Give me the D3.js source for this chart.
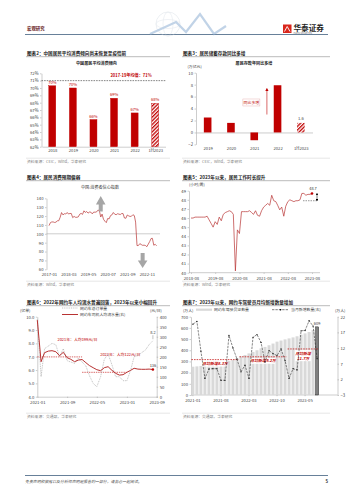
<!DOCTYPE html>
<html>
<head>
<meta charset="utf-8">
<script src="https://cdn.jsdelivr.net/npm/d3@7"></script>
<style>
  html, body { margin: 0; padding: 0; background: #fff; }
  svg { display: block; }
  svg text { font-family: "Noto Sans CJK SC", "Noto Sans", sans-serif; }
  .ax .domain { stroke: #9a9a9a; stroke-width: 0.5; }
  .ax .tick line { stroke: #9a9a9a; stroke-width: 0.5; }
  .ax .tick text { font-size: 4.2px; fill: #404040; }
</style>
</head>
<body>
<div id="page"></div>
<script>
// 图表2 居民平均消费倾向
const apcYears = ['2018', '2019', '2020', '2021', '2022', '1H2023'];
const apcValues = [70.3, 70.0, 65.7, 68.6, 66.6, 67.9];
const apcLabels = ['70%', '70%', '66%', '69%', '67%', '68%'];
const apcAvg = 71;
const apcTicks = [62, 63, 64, 65, 66, 67, 68, 69, 70, 71, 72];

// 图表3 居民存款同比多增（万亿元）
const depYears = ['2019', '2020', '2021', '2022', '1H2023'];
const depValues = [2.5, 1.6, -1.3, 7.9, 1.6];
const depTicks = [-2, 0, 2, 4, 6, 8, 10];

// 图表4 消费者信心指数 2017-01 起
const cciStart = '2017-01';
const cciValues = [
  109.2, 112.6, 113.3, 113.4, 112.8, 113.1, 114.6, 114.7, 118.6, 123.9, 121.3, 122.6,
  122.3, 124.0, 122.3, 122.9, 122.9, 118.2, 119.6, 118.6, 118.6, 119.1, 122.1, 123.0,
  121.9, 125.9, 124.1, 125.1, 123.3, 124.5, 124.4, 122.4, 124.5, 124.3, 124.6, 126.6,
  126.4, 118.9, 122.2, 116.4, 114.2, 112.6, 117.2, 116.8, 120.5, 121.3, 124.0, 122.1,
  121.5, 122.6, 122.2, 121.7, 122.8, 122.8, 117.8, 117.5, 121.2, 120.2, 119.5, 119.8,
  121.5, 120.5, 113.2, 86.7, 86.8, 88.9, 87.9, 87.0, 87.2, 86.8, 85.5, 88.3,
  91.2, 94.7, 94.9, 87.1, 88.2, 86.5
];
const cciTicks = ['2017-01', '2018-03', '2019-05', '2020-07', '2021-09', '2022-11'];
const cciYTicks = [60, 70, 80, 90, 100, 110, 120, 130, 140];

// 图表5 平均工作时长（小时/周）2018-08 起
const hoursStart = '2018-08';
const hoursValues = [
  46.0, 46.0, 46.1, 46.1, 46.1, 46.1, 46.1, 46.1, 46.2, 45.8, 45.4, 45.0,
  45.6, 45.3, 46.1, 45.7, 46.4, 46.6, 46.7, 46.8, 46.7, 46.4, 40.2, 44.7,
  44.3, 46.7, 46.7, 46.7, 46.7, 46.8, 46.6, 46.4, 46.8, 46.3, 46.2, 46.8,
  47.2, 47.4, 47.6, 47.4, 48.5, 47.9, 47.8, 47.4, 46.9, 47.2, 46.2, 47.3,
  47.8, 48.0, 47.9, 47.8, 47.9, 47.9, 48.0, 48.7, 48.7, 48.5, 48.6, 48.6, 48.7
];
const hoursTicks = ['2018-08', '2019-08', '2020-08', '2021-08', '2022-08', '2023-08'];
const hoursYTicks = [40, 41, 42, 43, 44, 45, 46, 47, 48, 49];

// 图表6 网约车订单量（亿单）与司机人均流水（元/日）2021-01 起
const rideStart = '2021-01';
const rideOrders = [
  9.8, 5.5, 7.6, 7.8, 8.0, 7.9, 7.0, 7.6, 6.7, 6.6, 6.5, 6.9,
  6.6, 6.3, 5.6, 5.0, 4.75, 5.5, 6.8, 7.2, 6.4, 5.5, 5.5, 5.2,
  5.2, 6.0, 7.0, 7.1, 7.3, 7.5, 7.9, 8.2
];
const rideIncome = [
  383, 175, 220, 228, 230, 225, 205, 222, 195, 187, 175, 183,
  186, 170, 156, 145, 135, 130, 145, 150, 132, 117, 108, 110,
  122, 132, 142, 138, 137, 137, 138, 136
];
const rideAvgFrom = ['2021-01', '2022-01'];
const rideAvgTo = ['2022-01', '2023-01'];
const rideAvgValues = [199, 122];
const rideAvgLabels = ['2021年：人均199元/日', '2022年：人均122元/日'];
const rideTicks = ['2021-01', '2021-09', '2022-05', '2023-01', '2023-09'];
const rideLeftTicks = [4, 5, 6, 7, 8, 9, 10];
const rideRightTicks = [0, 50, 100, 150, 200, 250, 300, 350, 400];

// 图表7 网约车驾驶员证数量（万人）与当月新增（万人）2021-01 起
const drvStart = '2021-01';
const drvLicenses = [
  253, 256, 260, 263, 266, 270, 276, 283, 295, 305, 316, 328,
  345, 358, 372, 385, 400, 417, 430, 445, 460, 477, 487, 497,
  506, 515, 525, 540, 551, 563, 581, 609
];
const drvNew = [
  19.6, 20.5, 11.0, 2.3, 5.3, 5.4, 5.4, 1.7, 1.7, 16.0, 12.0, 8.5,
  4.4, 6.5, 2.3, 15.4, 16.3, 13.8, 7.5, 11.2, 10.2, 9.6, 11.7, 8.0,
  2.3, 5.4, 5.0, 17.5, 17.6, 20.7, 19.0, 8.6
];
const drvAvgFrom = ['2021-01', '2022-01', '2023-01'];
const drvAvgTo = ['2021-12', '2022-12', '2023-08'];
const drvAvgValues = [8.3, 9.2, 11.7];
const drvAvgLabels = [['月均新增8.3万'], ['月均新增9.2万'], ['月均新增', '11.7万']];
const drvTicks = ['2021-01', '2021-08', '2022-03', '2022-10', '2023-05'];
const drvLeftTicks = [0, 100, 200, 300, 400, 500, 600, 700];
const drvRightTicks = [-3, 2, 7, 12, 17, 22];

const RED = '#c00000';
const LINE_RED = '#b83232';
const fmtMonth = d3.timeFormat('%Y-%m');
const parseMonth = d3.timeParse('%Y-%m');
const monthsFrom = (start, n) => d3.range(n).map(i => d3.timeMonth.offset(parseMonth(start), i));

const svg = d3.select('#page')
  .append('svg')
  .attr('width', 353)
  .attr('height', 500);

const defs = svg.append('defs');
const hatch = defs.append('pattern')
  .attr('id', 'hatch')
  .attr('patternUnits', 'userSpaceOnUse')
  .attr('width', 2.6)
  .attr('height', 2.6)
  .attr('patternTransform', 'rotate(45)');
hatch.append('rect').attr('width', 2.6).attr('height', 2.6).attr('fill', '#fff');
hatch.append('rect').attr('width', 1.3).attr('height', 2.6).attr('fill', RED);

function marker(id, color, size) {
  defs.append('marker')
    .attr('id', id)
    .attr('viewBox', '0 0 10 10')
    .attr('refX', 5)
    .attr('refY', 5)
    .attr('markerUnits', 'userSpaceOnUse')
    .attr('markerWidth', size)
    .attr('markerHeight', size)
    .attr('orient', 'auto-start-reverse')
    .append('path')
    .attr('d', 'M0,0L10,5L0,10z')
    .attr('fill', color);
}
marker('arrRed', RED, 3.2);
marker('arrBlack', '#000', 2.4);

function txt(x, y, s, o = {}) {
  return svg.append('text')
    .attr('x', x)
    .attr('y', y)
    .attr('font-size', o.size || 4.2)
    .attr('font-weight', o.bold ? 'bold' : null)
    .attr('font-style', o.italic ? 'italic' : null)
    .attr('fill', o.fill || '#333')
    .attr('text-anchor', o.anchor || 'start')
    .text(s);
}

function hline(x1, x2, y, color, w, dash) {
  return svg.append('line')
    .attr('x1', x1).attr('x2', x2)
    .attr('y1', y).attr('y2', y)
    .attr('stroke', color)
    .attr('stroke-width', w)
    .attr('stroke-dasharray', dash || null);
}

function title(x, y, x2, s) {
  txt(x, y, s, { size: 4.6, bold: true, fill: '#1a1a1a' });
  hline(x - 1, x2, y + 2.2, '#555', 0.4);
}

function source(x, y, x2, s) {
  hline(x - 1, x2, y - 4.8, '#bfbfbf', 0.4);
  txt(x, y, s, { size: 3.8, fill: '#808080' });
}

// ---------- 页眉 ----------
txt(27, 29.5, '宏观研究', { size: 4.4, bold: true, fill: '#6b1d1d' });
hline(25, 328, 34.5, '#40607f', 0.8);
const deco = svg.append('g').attr('opacity', 0.55);
deco.append('circle').attr('cx', 168).attr('cy', 24).attr('r', 12)
  .attr('fill', 'none').attr('stroke', '#c9d3de').attr('stroke-width', 0.6);
deco.append('ellipse').attr('cx', 168).attr('cy', 24).attr('rx', 12).attr('ry', 4.5)
  .attr('fill', 'none').attr('stroke', '#c9d3de').attr('stroke-width', 0.5);
deco.append('ellipse').attr('cx', 168).attr('cy', 24).attr('rx', 5).attr('ry', 12)
  .attr('fill', 'none').attr('stroke', '#c9d3de').attr('stroke-width', 0.5);
deco.append('polyline')
  .attr('points', '150,34 176,22 186,32 200,14 214,34 226,26')
  .attr('fill', 'none').attr('stroke', '#8fb0d4').attr('stroke-width', 2.2);
svg.append('rect').attr('x', 283).attr('y', 24.5).attr('width', 8.5).attr('height', 8.5).attr('fill', '#d9261c');
svg.append('path').attr('d', 'M284.5,31.5L287.2,26.5L290,31.5').attr('fill', 'none').attr('stroke', '#fff').attr('stroke-width', 0.9);
txt(293.5, 30.5, '华泰证券', { size: 7.6, bold: true, fill: '#1f1f1f' });
txt(293.5, 33.6, 'HUATAI SECURITIES', { size: 2, fill: '#666' });

// ---------- 图表2 ----------
title(27, 54.5, 170, '图表2：中国居民平均消费倾向尚未恢复至疫情前');
{
  const x = d3.scalePoint().domain(apcYears).range([42, 165.5]).padding(0.5);
  const y = d3.scaleLinear().domain([62, 72]).range([146.7, 73.3]);
  txt(96.5, 64.8, '中国居民平均消费倾向', { size: 4.1, bold: true, anchor: 'middle', fill: '#222' });
  svg.append('g').attr('class', 'ax').attr('transform', 'translate(41.5,0)')
    .call(d3.axisLeft(y).tickValues(apcTicks).tickSize(1.5).tickSizeOuter(0).tickPadding(1.5).tickFormat(d => d + '%'));
  svg.append('g').attr('class', 'ax').attr('transform', `translate(0,${y(62)})`)
    .call(d3.axisBottom(x).tickSize(0).tickSizeOuter(0).tickPadding(2.5));
  hline(41.5, 165.5, y(apcAvg), '#333', 0.6, '1.6,1');
  txt(131, y(apcAvg) - 3.5, '2017-19年均值：71%', { size: 4.1, bold: true, anchor: 'middle', fill: RED });
  svg.append('g').selectAll('rect').data(apcYears).join('rect')
    .attr('x', d => x(d) - 3.5)
    .attr('width', 7)
    .attr('y', (d, i) => y(apcValues[i]))
    .attr('height', (d, i) => y(62) - y(apcValues[i]))
    .attr('fill', (d, i) => i === apcYears.length - 1 ? 'url(#hatch)' : RED)
    .attr('stroke', RED)
    .attr('stroke-width', 0.4);
  svg.append('g').selectAll('text').data(apcYears).join('text')
    .attr('x', d => x(d))
    .attr('y', (d, i) => y(apcValues[i]) - 2)
    .attr('text-anchor', 'middle')
    .attr('font-size', 4.1)
    .attr('fill', RED)
    .text((d, i) => apcLabels[i]);
}
source(27, 163, 170, '资料来源：CEIC，Wind，华泰研究');

// ---------- 图表3 ----------
title(183, 54.5, 330, '图表3：居民储蓄存款同比多增');
{
  const x = d3.scalePoint().domain(depYears).range([196, 312.5]).padding(0.5);
  const y = d3.scaleLinear().domain([-2, 10]).range([144.4, 72.7]);
  txt(254, 64.8, '居民存款年同比多增', { size: 4.1, bold: true, anchor: 'middle', fill: '#222' });
  txt(187.5, 67.5, '(万亿元)', { size: 3.9, fill: '#404040' });
  svg.append('g').attr('class', 'ax').attr('transform', 'translate(196,0)')
    .call(d3.axisLeft(y).tickValues(depTicks).tickSize(1.5).tickSizeOuter(0).tickPadding(1.5));
  svg.append('g').attr('class', 'ax').attr('transform', `translate(0,${y(0)})`)
    .call(d3.axisBottom(x).tickSize(0).tickSizeOuter(0).tickPadding(y(-2) - y(0) + 2.2));
  svg.append('g').selectAll('rect').data(depYears).join('rect')
    .attr('x', d => x(d) - 3.8)
    .attr('width', 7.6)
    .attr('y', (d, i) => y(Math.max(0, depValues[i])))
    .attr('height', (d, i) => Math.abs(y(depValues[i]) - y(0)))
    .attr('fill', (d, i) => i === depYears.length - 1 ? 'url(#hatch)' : RED);
  const last = depYears.length - 1;
  txt(x(depYears[last]), y(depValues[last]) - 2.5, '1.6', { size: 4.1, anchor: 'middle', fill: '#404040' });
  // 同比多增 箭头
  const ax = (x('2021') + x('2022')) / 2 + 1;
  svg.append('line')
    .attr('x1', ax).attr('x2', ax)
    .attr('y1', y(3)).attr('y2', y(7.2))
    .attr('stroke', RED).attr('stroke-width', 0.6)
    .attr('marker-end', 'url(#arrRed)');
  svg.append('rect').attr('x', ax - 24).attr('y', y(5.6)).attr('width', 17).attr('height', 7)
    .attr('fill', '#fff').attr('stroke', '#e2a4a4').attr('stroke-width', 0.4);
  txt(ax - 15.5, y(5.6) + 5, '同比多增', { size: 3.9, anchor: 'middle', fill: RED });
}
source(183, 163, 330, '资料来源：CEIC，Wind，华泰研究');

// ---------- 图表4 ----------
title(27, 178.5, 170, '图表4：居民消费预期偏弱');
{
  const dates = monthsFrom(cciStart, cciValues.length);
  const x = d3.scaleTime().domain([dates[0], dates[dates.length - 1]]).range([49, 156.6]);
  const y = d3.scaleLinear().domain([60, 140]).range([269.3, 198.3]);
  txt(100, 189, '中国:消费者信心指数', { size: 4.1, anchor: 'middle', fill: '#333' });
  svg.append('g').attr('class', 'ax').attr('transform', 'translate(46.5,0)')
    .call(d3.axisLeft(y).tickValues(cciYTicks).tickSize(1.5).tickSizeOuter(0).tickPadding(1.5));
  svg.append('g').attr('class', 'ax').attr('transform', `translate(0,${y(100)})`)
    .call(d3.axisBottom(x).tickValues(cciTicks.map(parseMonth)).tickFormat(fmtMonth)
      .tickSize(0).tickSizeOuter(0).tickPadding(y(60) - y(100) + 3.5))
    .call(g => g.select('.domain').attr('d', `M46.5,0H160`));
  svg.append('path')
    .datum(cciValues)
    .attr('fill', 'none')
    .attr('stroke', LINE_RED)
    .attr('stroke-width', 0.7)
    .attr('d', d3.line().x((d, i) => x(dates[i])).y(d => y(d)));
  // 灰色箭头
  const up = x(parseMonth('2020-02'));
  svg.append('path')
    .attr('d', `M${up - 2},${y(125)}V${y(133)}H${up - 4.8}L${up},${y(142.5)}L${up + 4.8},${y(133)}H${up + 2}V${y(125)}Z`)
    .attr('fill', '#a6a6a6');
  const dn = x(parseMonth('2022-08'));
  svg.append('path')
    .attr('d', `M${dn - 2},${y(78.5)}V${y(70)}H${dn - 4.8}L${dn},${y(61.5)}L${dn + 4.8},${y(70)}H${dn + 2}V${y(78.5)}Z`)
    .attr('fill', '#a6a6a6');
}
source(27, 286, 170, '资料来源：Wind，华泰研究');

// ---------- 图表5 ----------
title(183, 178.5, 330, '图表5：2023年以来，居民工作时长提升');
{
  const dates = monthsFrom(hoursStart, hoursValues.length);
  const x = d3.scaleTime().domain([dates[0], dates[dates.length - 1]]).range([191, 312]);
  const y = d3.scaleLinear().domain([40, 49]).range([272.7, 190.7]);
  txt(189, 185.5, '(小时/周)', { size: 3.9, fill: '#404040' });
  svg.append('g').attr('class', 'ax').attr('transform', 'translate(189,0)')
    .call(d3.axisLeft(y).tickValues(hoursYTicks).tickSize(1.5).tickSizeOuter(0).tickPadding(1.5));
  svg.append('g').attr('class', 'ax').attr('transform', `translate(0,${y(40)})`)
    .call(d3.axisBottom(x).tickValues(hoursTicks.map(parseMonth)).tickFormat(fmtMonth)
      .tickSize(1.2).tickSizeOuter(0).tickPadding(2.8))
    .call(g => g.select('.domain').attr('d', 'M189,0H320'));
  svg.append('path')
    .datum(hoursValues)
    .attr('fill', 'none')
    .attr('stroke', LINE_RED)
    .attr('stroke-width', 0.7)
    .attr('d', d3.line().x((d, i) => x(dates[i])).y(d => y(d)));
  const n = hoursValues.length - 1;
  svg.append('circle').attr('cx', x(dates[n])).attr('cy', y(hoursValues[n])).attr('r', 1.3).attr('fill', RED);
  txt(x(dates[n]) + 1, y(hoursValues[n]) - 3, '48.7', { size: 3.9, anchor: 'middle', fill: '#333' });
  const ar = x(dates[n]) + 5;
  svg.append('line')
    .attr('x1', ar).attr('x2', ar)
    .attr('y1', y(48.65)).attr('y2', y(47.95))
    .attr('stroke', '#000').attr('stroke-width', 0.5)
    .attr('marker-start', 'url(#arrBlack)')
    .attr('marker-end', 'url(#arrBlack)');
  hline(x(dates[n]) - 9, ar, y(47.9), '#333', 0.5, '1.5,1');
}
source(183, 286, 330, '资料来源：Wind，华泰研究');

// ---------- 图表6 ----------
title(27, 303.5, 170, '图表6：2022年网约车人均流水普遍回落，2023年以来小幅回升');
{
  const dates = monthsFrom(rideStart, rideOrders.length);
  const x = d3.scaleTime().domain([parseMonth(rideTicks[0]), parseMonth(rideTicks[rideTicks.length - 1])]).range([37.3, 156.7]);
  const yL = d3.scaleLinear().domain([4, 10]).range([396.7, 316.7]);
  const yR = d3.scaleLinear().domain([0, 400]).range([396.7, 316.7]);
  txt(20, 311.5, '(亿单)', { size: 3.9, fill: '#404040' });
  txt(150, 311.5, '(元/日)', { size: 3.9, fill: '#404040' });
  // 图例
  hline(62, 78, 308, '#9a9a9a', 0.6, '1,0.8');
  txt(80, 309.5, '网约车总订单量', { size: 3.9, fill: '#404040' });
  hline(62, 78, 314.5, LINE_RED, 1);
  txt(80, 316, '网约车司机人均流水量(右)', { size: 3.9, fill: '#404040' });

  svg.append('g').attr('class', 'ax').attr('transform', 'translate(37.3,0)')
    .call(d3.axisLeft(yL).tickValues(rideLeftTicks).tickSize(1.5).tickSizeOuter(0).tickPadding(1.5));
  svg.append('g').attr('class', 'ax').attr('transform', 'translate(156.7,0)')
    .call(d3.axisRight(yR).tickValues(rideRightTicks).tickSize(1.5).tickSizeOuter(0).tickPadding(1.5));
  svg.append('g').attr('class', 'ax').attr('transform', `translate(0,${yL(4)})`)
    .call(d3.axisBottom(x).tickValues(rideTicks.map(parseMonth)).tickFormat(fmtMonth)
      .tickSize(1.2).tickSizeOuter(0).tickPadding(3.2));

  rideAvgValues.forEach((v, i) => {
    hline(x(parseMonth(rideAvgFrom[i])), x(parseMonth(rideAvgTo[i])), yR(v), RED, 0.6, '1.4,0.9');
  });
  txt(x(parseMonth('2021-07')) - 2, yR(rideAvgValues[0]) - 16, rideAvgLabels[0], { size: 3.9, fill: RED });
  txt(x(parseMonth('2022-07')) - 4, yR(rideAvgValues[1]) - 16, rideAvgLabels[1], { size: 3.9, fill: RED });

  svg.append('path')
    .datum(rideOrders)
    .attr('fill', 'none')
    .attr('stroke', '#9a9a9a')
    .attr('stroke-width', 0.6)
    .attr('stroke-dasharray', '1,0.8')
    .attr('d', d3.line().x((d, i) => x(dates[i])).y(d => yL(d)));
  svg.append('path')
    .datum(rideIncome)
    .attr('fill', 'none')
    .attr('stroke', LINE_RED)
    .attr('stroke-width', 1)
    .attr('d', d3.line().x((d, i) => x(dates[i])).y(d => yR(d)));
  const n = rideIncome.length - 1;
  svg.append('circle').attr('cx', x(dates[n])).attr('cy', yR(rideIncome[n])).attr('r', 1.3).attr('fill', RED);
  txt(x(dates[n]), yR(rideIncome[n]) - 3, '136', { size: 3.9, anchor: 'middle', fill: '#333' });
  txt(x(dates[n]), yL(rideOrders[n]) - 7, '8.2', { size: 3.9, anchor: 'middle', fill: '#333' });
  svg.append('line')
    .attr('x1', x(dates[n])).attr('x2', x(dates[n]))
    .attr('y1', yL(rideOrders[n]) - 5.5).attr('y2', yL(rideOrders[n]) - 1.5)
    .attr('stroke', '#666').attr('stroke-width', 0.4);
}
source(27, 418, 170, '资料来源：交通部，华泰研究');

// ---------- 图表7 ----------
title(183, 303.5, 330, '图表7：2023年以来，网约车驾驶员月均新增数量增加');
{
  const months = monthsFrom(drvStart, drvLicenses.length).map(fmtMonth);
  const x = d3.scaleBand().domain(months).range([191, 319]).paddingInner(0.25).paddingOuter(0.1);
  const bw = x.bandwidth();
  const yL = d3.scaleLinear().domain([0, 700]).range([395, 316.7]);
  const yR = d3.scaleLinear().domain([-3, 22]).range([395, 316.7]);
  txt(183, 311.5, '(万人)', { size: 3.9, fill: '#404040' });
  txt(335, 311.5, '(万人)', { size: 3.9, fill: '#404040' });
  // 图例
  svg.append('rect').attr('x', 196).attr('y', 308.6).attr('width', 16).attr('height', 2.2).attr('fill', '#d9d9d9');
  txt(214, 311.2, '网约车驾驶员证数量', { size: 3.9, fill: '#404040' });
  hline(272, 289, 309.7, '#000', 0.5, '2.4,1');
  svg.append('circle').attr('cx', 280.5).attr('cy', 309.7).attr('r', 0.8).attr('fill', '#000');
  txt(291, 311.2, '当月新增数量(右)', { size: 3.9, fill: '#404040' });

  svg.append('g').attr('class', 'ax').attr('transform', 'translate(191,0)')
    .call(d3.axisLeft(yL).tickValues(drvLeftTicks).tickSize(1.5).tickSizeOuter(0).tickPadding(1.5));
  svg.append('g').attr('class', 'ax').attr('transform', 'translate(337.5,0)')
    .call(d3.axisRight(yR).tickValues(drvRightTicks).tickSize(1.5).tickSizeOuter(0).tickPadding(1.5));
  svg.append('g').attr('class', 'ax').attr('transform', `translate(0,${yL(0)})`)
    .call(d3.axisBottom(x).tickValues(drvTicks).tickSize(1.2).tickSizeOuter(0).tickPadding(3.2))
    .call(g => g.select('.domain').attr('d', 'M191,0H337.5'));

  svg.append('g').selectAll('rect').data(drvLicenses).join('rect')
    .attr('x', (d, i) => x(months[i]))
    .attr('width', bw)
    .attr('y', d => yL(d))
    .attr('height', d => yL(0) - yL(d))
    .attr('fill', (d, i) => i === drvLicenses.length - 1 ? '#7f7f7f' : '#d9d9d9')
    .attr('stroke', (d, i) => i === drvLicenses.length - 1 ? '#000' : 'none')
    .attr('stroke-width', 0.4);
  const n = drvLicenses.length - 1;
  txt(x(months[n]) + bw / 2, yL(drvLicenses[n]) - 2, '609', { size: 3.9, anchor: 'middle', fill: '#333' });

  drvAvgValues.forEach((v, i) => {
    const x1 = x(drvAvgFrom[i]);
    const x2 = x(drvAvgTo[i]) + bw;
    hline(x1, x2, yR(v), RED, 0.7, '1.6,1');
    const lines = drvAvgLabels[i];
    const cx = (x1 + x2) / 2;
    const w = lines.length > 1 ? 16 : 24;
    svg.append('rect')
      .attr('x', cx - w / 2).attr('y', yR(v) + 1.2)
      .attr('width', w).attr('height', 5.2 * lines.length + 0.6)
      .attr('fill', '#fff');
    lines.forEach((s, j) => {
      txt(cx, yR(v) + 5.6 + j * 5, s, { size: 3.9, bold: true, italic: true, anchor: 'middle', fill: RED });
    });
  });

  const line = d3.line().x((d, i) => x(months[i]) + bw / 2).y(d => yR(d));
  svg.append('path')
    .datum(drvNew)
    .attr('fill', 'none')
    .attr('stroke', '#111')
    .attr('stroke-width', 0.5)
    .attr('stroke-dasharray', '2.4,1')
    .attr('d', line);
  svg.append('g').selectAll('circle').data(drvNew).join('circle')
    .attr('cx', (d, i) => x(months[i]) + bw / 2)
    .attr('cy', d => yR(d))
    .attr('r', 0.65)
    .attr('fill', '#111');
}
source(183, 418, 330, '资料来源：交通部，华泰研究');

// ---------- 页脚 ----------
hline(25, 328, 475.5, '#40607f', 0.8);
txt(25, 482.5, '免责声明和披露以及分析师声明是报告的一部分，请务必一起阅读。', { size: 3.9, italic: true, fill: '#555' });
txt(328, 482.5, '5', { size: 4.4, bold: true, anchor: 'end', fill: '#333' });
</script>
</body>
</html>
